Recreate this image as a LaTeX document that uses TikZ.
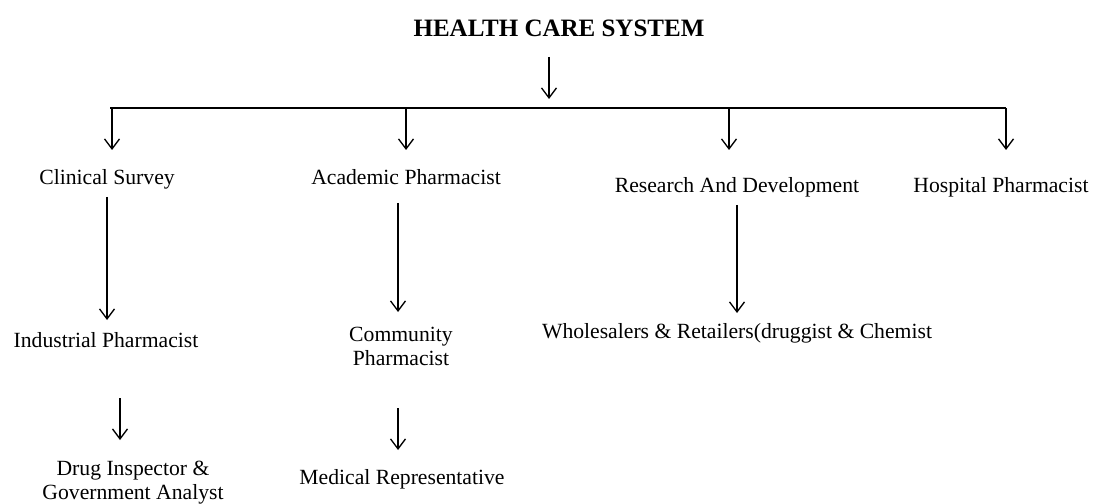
\documentclass[tikz,border=0pt]{standalone}
\usepackage{fontspec}
\setmainfont{Liberation Serif}
\usetikzlibrary{arrows.meta}
\begin{document}
\begin{tikzpicture}[x=0.6pt,y=-0.6pt,
  lbl/.style={inner sep=0pt,font=\fontsize{13}{16}\selectfont,align=center,text height=9pt,text depth=3pt},
  lbltwo/.style={inner sep=0pt,font=\fontsize{13}{14.4}\selectfont,align=center},
  arr/.style={draw,line width=0.8pt,-{Straight Barb[length=6pt,width=9pt,line width=0.8pt]}},
  bar/.style={draw,line width=0.8pt}]
\useasboundingbox (0,0) rectangle (1094,504);
\node[inner sep=0pt,font=\fontsize{15}{18}\selectfont\bfseries] (title) at (559,28) {HEALTH CARE SYSTEM};
\coordinate (ts) at (549,57);
\coordinate (te) at (549,99);
\coordinate (hl) at (110,108);
\coordinate (hr) at (1006,108);
\coordinate (b1) at (112,108);
\coordinate (b2) at (406,108);
\coordinate (b3) at (729,108);
\coordinate (b4) at (1006,108);
\coordinate (e1) at (112,150);
\coordinate (e2) at (406,150);
\coordinate (e3) at (729,150);
\coordinate (e4) at (1006,150);

\node[lbl] (clin) at (107,180) {Clinical Survey};
\node[lbl] (acad) at (406,180) {Academic Pharmacist};
\node[lbl] (rnd) at (737,188) {Research And Development};
\node[lbl] (hosp) at (1001,188) {Hospital Pharmacist};
\node[lbl] (ind) at (106,342) {Industrial Pharmacist};
\node[lbltwo] (comm) at (401,346) {Community\\Pharmacist};
\node[lbl] (whol) at (737,333) {Wholesalers \& Retailers(druggist \& Chemist};
\node[lbltwo] (drug) at (133,483) {Drug Inspector \&\\Government Analyst};
\node[lbl] (med) at (402,479) {Medical Representative};

\draw[arr] (ts) -- (te);
\draw[bar] (hl) -- (hr);
\draw[arr] (b1) -- (e1);
\draw[arr] (b2) -- (e2);
\draw[arr] (b3) -- (e3);
\draw[arr] (b4) -- (e4);

\coordinate (c1s) at (107,197);
\coordinate (c1e) at (107,320);
\draw[arr] (c1s) -- (c1e);
\coordinate (c2s) at (398,203);
\coordinate (c2e) at (398,312);
\draw[arr] (c2s) -- (c2e);
\coordinate (c3s) at (737,205);
\coordinate (c3e) at (737,313);
\draw[arr] (c3s) -- (c3e);
\coordinate (d1s) at (120,398);
\coordinate (d1e) at (120,440);
\draw[arr] (d1s) -- (d1e);
\coordinate (d2s) at (398,408);
\coordinate (d2e) at (398,450);
\draw[arr] (d2s) -- (d2e);
\end{tikzpicture}
\end{document}
